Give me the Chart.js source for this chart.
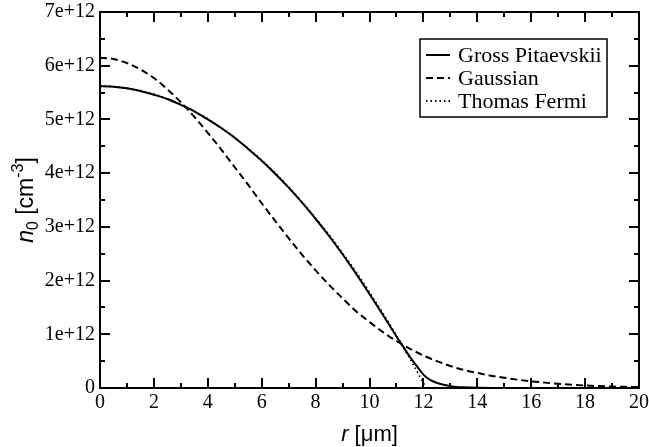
<!DOCTYPE html>
<html>
<head>
<meta charset="utf-8">
<script src="https://cdn.jsdelivr.net/npm/chart.js@4.4.0/dist/chart.umd.min.js"></script>
<style>
  html, body { margin: 0; padding: 0; background: #fff; }
  #wrap { width: 649px; height: 447px; }
</style>
</head>
<body>
<div id="wrap"><canvas id="c" width="649" height="447"></canvas></div>
<script>
// ---- data (densities in units of 1e12 cm^-3, radius in micrometres) ----
const UNIT = 1e12;
const gpR = [0,0.5,1,1.5,2,2.5,3,3.5,4,4.5,5,5.5,6,6.5,7,7.5,8,8.5,9,9.5,10,10.5,11,11.25,11.5,11.75,12,12.25,12.5,12.75,13,13.5,14,15,16,17,18,19,20];
const gpN = [5.62,5.61,5.58,5.53,5.46,5.38,5.27,5.15,5.00,4.84,4.66,4.45,4.23,3.99,3.73,3.45,3.15,2.83,2.49,2.13,1.75,1.36,0.96,0.77,0.58,0.41,0.25,0.15,0.095,0.06,0.035,0.012,0.003,0,0,0,0,0,0];

const gaussR = [0,0.5,1,1.5,2,2.5,3,3.5,4,4.5,5,5.5,6,6.5,7,7.5,8,8.5,9,9.5,10,10.5,11,11.5,12,12.5,13,13.5,14,14.5,15,15.5,16,16.5,17,17.5,18,18.5,19,19.5,20];
const gaussN = [6.15,6.125,6.05,5.93,5.77,5.56,5.32,5.05,4.75,4.44,4.11,3.78,3.44,3.11,2.79,2.48,2.19,1.92,1.67,1.43,1.23,1.04,0.875,0.73,0.605,0.50,0.41,0.335,0.28,0.23,0.19,0.155,0.125,0.1,0.078,0.06,0.047,0.036,0.027,0.021,0.016];

const tfR = [0,0.5,1,1.5,2,2.5,3,3.5,4,4.5,5,5.5,6,6.5,7,7.5,8,8.5,9,9.5,10,10.5,11,11.5,12,12.1];
const tfN = [5.62,5.61,5.58,5.53,5.47,5.38,5.28,5.15,5.01,4.84,4.66,4.46,4.24,4.00,3.74,3.46,3.16,2.85,2.51,2.16,1.78,1.39,0.975,0.545,0.093,0];

const seriesNames = ['Gross Pitaevskii', 'Gaussian', 'Thomas Fermi'];
const xTicks = [0,2,4,6,8,10,12,14,16,18,20];
const yTicks = [0,1,2,3,4,5,6,7];   // multiples of 1e12
const xTitle = ['r', ' [\u03bcm]'];
const yTitle = ['n', '0', ' [cm', '-3', ']'];

const pts = (rs, ns) => rs.map((r, i) => ({ x: r, y: ns[i] * UNIT }));

const SERIF = '"Liberation Serif", "Times New Roman", serif';
const SANS = '"Liberation Sans", Arial, sans-serif';

const dashes = [[], [7, 4], [1.5, 3]];
const widths = [2, 2, 1.8];

const framePlugin = {
  id: 'frame',
  afterDraw(chart) {
    const { ctx, chartArea: a, scales } = chart;
    const xs = scales.x, ys = scales.y;
    ctx.save();
    ctx.strokeStyle = '#000';
    ctx.lineWidth = 2;
    ctx.strokeRect(a.left, a.top, a.right - a.left, a.bottom - a.top);
    ctx.beginPath();
    for (let v = 0; v <= 20; v += 1) {
      const len = (v % 2 === 0) ? 10 : 5;
      const px = Math.round(xs.getPixelForValue(v));
      ctx.moveTo(px, a.bottom); ctx.lineTo(px, a.bottom - len);
      ctx.moveTo(px, a.top); ctx.lineTo(px, a.top + len);
    }
    for (let v = 0; v <= 7; v += 0.5) {
      const len = (Math.abs(v - Math.round(v)) < 1e-9) ? 10 : 5;
      const py = Math.round(ys.getPixelForValue(v * UNIT));
      ctx.moveTo(a.left, py); ctx.lineTo(a.left + len, py);
      ctx.moveTo(a.right, py); ctx.lineTo(a.right - len, py);
    }
    ctx.stroke();

    // legend box
    const lx = 420, ly = 39, lw = 187, lh = 78;
    ctx.fillStyle = '#fff';
    ctx.fillRect(lx, ly, lw, lh);
    ctx.lineWidth = 1.5;
    ctx.strokeRect(lx, ly, lw, lh);
    ctx.font = '22px ' + SERIF;
    ctx.textBaseline = 'middle';
    ctx.fillStyle = '#000';
    seriesNames.forEach((name, i) => {
      const yy = ly + 16 + i * 23;
      ctx.beginPath();
      ctx.setLineDash(dashes[i]);
      ctx.lineWidth = widths[i];
      ctx.moveTo(lx + 6, yy); ctx.lineTo(lx + 30, yy);
      ctx.stroke();
      ctx.setLineDash([]);
      ctx.fillText(name, lx + 38, yy + 1);
    });

    // axis titles (mixed italic/sub/superscript)
    ctx.fillStyle = '#000';
    ctx.textBaseline = 'alphabetic';
    const f1 = 'italic 22px ' + SANS, f2 = '22px ' + SANS;
    ctx.font = f1; const w1 = ctx.measureText(xTitle[0]).width;
    ctx.font = f2; const w2 = ctx.measureText(xTitle[1]).width;
    let sx = (a.left + a.right) / 2 - (w1 + w2) / 2;
    const by = 441;
    ctx.font = f1; ctx.fillText(xTitle[0], sx, by);
    ctx.font = f2; ctx.fillText(xTitle[1], sx + w1, by);

    ctx.save();
    ctx.translate(33, 200);
    ctx.rotate(-Math.PI / 2);
    const parts = [
      { t: yTitle[0], f: 'italic 23px ' + SANS, dy: 0 },
      { t: yTitle[1], f: '16px ' + SANS, dy: 5 },
      { t: yTitle[2], f: '23px ' + SANS, dy: 0 },
      { t: yTitle[3], f: '16px ' + SANS, dy: -10 },
      { t: yTitle[4], f: '23px ' + SANS, dy: 0 }
    ];
    let tot = 0;
    parts.forEach(p => { ctx.font = p.f; p.w = ctx.measureText(p.t).width; tot += p.w; });
    let cx = -tot / 2;
    parts.forEach(p => { ctx.font = p.f; ctx.fillText(p.t, cx, p.dy); cx += p.w; });
    ctx.restore();
    ctx.restore();
  }
};

const zeroPad = s => { s.paddingTop = 0; s.paddingBottom = 0; s.paddingLeft = 0; s.paddingRight = 0; };

new Chart(document.getElementById('c'), {
  type: 'scatter',
  data: {
    datasets: [
      { label: seriesNames[0], data: pts(gpR, gpN) },
      { label: seriesNames[1], data: pts(gaussR, gaussN) },
      { label: seriesNames[2], data: pts(tfR, tfN) }
    ].map((d, i) => Object.assign(d, {
      showLine: true,
      borderColor: '#000',
      backgroundColor: '#000',
      borderWidth: widths[i],
      borderDash: dashes[i],
      pointRadius: 0,
      pointHoverRadius: 0,
      cubicInterpolationMode: 'monotone',
      fill: false
    }))
  },
  options: {
    responsive: false,
    animation: false,
    layout: { padding: { top: 12, right: 10, left: 0, bottom: 0 } },
    plugins: { legend: { display: false }, tooltip: { enabled: false } },
    scales: {
      x: {
        type: 'linear', min: 0, max: 20,
        afterBuildTicks: s => { s.ticks = xTicks.map(v => ({ value: v })); },
        ticks: { font: { family: SERIF, size: 20 }, color: '#000', padding: 3, maxRotation: 0, autoSkip: false },
        grid: { display: false, drawTicks: false, tickLength: 0 }, border: { display: false },
        afterFit: s => { s.height = 59; zeroPad(s); }
      },
      y: {
        type: 'linear', min: 0, max: 7 * UNIT,
        afterBuildTicks: s => { s.ticks = yTicks.map(v => ({ value: v * UNIT })); },
        ticks: {
          font: { family: SERIF, size: 20 }, color: '#000', padding: 5, autoSkip: false,
          callback: v => v === 0 ? '0' : (v / UNIT) + 'e+12'
        },
        grid: { display: false, drawTicks: false, tickLength: 0 }, border: { display: false },
        afterFit: s => { s.width = 100; zeroPad(s); }
      }
    }
  },
  plugins: [framePlugin]
});
</script>
</body>
</html>
